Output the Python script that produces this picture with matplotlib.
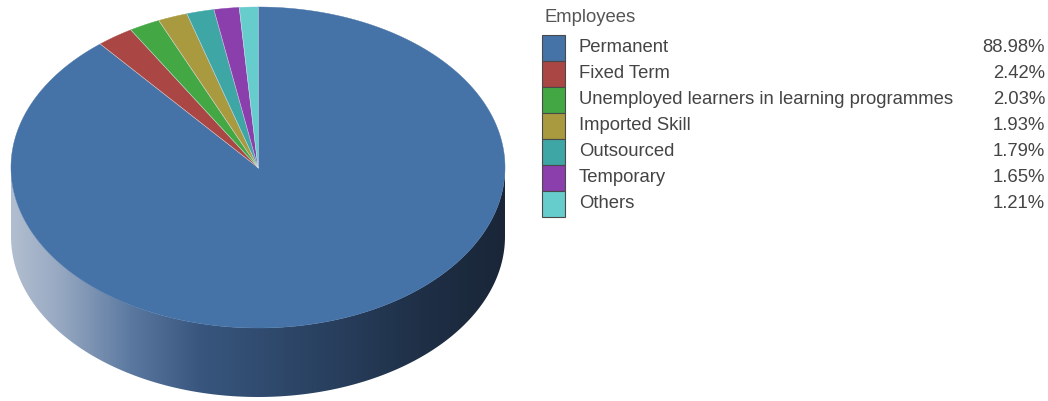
import numpy as np
import matplotlib

matplotlib.use("Agg")

import matplotlib.pyplot as plt
from matplotlib.colors import LinearSegmentedColormap
from matplotlib.patches import Polygon, Rectangle

plt.rcParams["font.family"] = ["Liberation Sans", "DejaVu Sans"]

categories = [
    "Permanent",
    "Fixed Term",
    "Unemployed learners in learning programmes",
    "Imported Skill",
    "Outsourced",
    "Temporary",
    "Others",
]
shares = [88.98, 2.42, 2.03, 1.93, 1.79, 1.65, 1.21]
colors = ["#4572a7", "#aa4643", "#43a843", "#a99a3f", "#3fa6a6", "#8a3fad", "#66cccc"]
legend_title = "Employees"

# pie geometry in pixel-like units (y grows downward)
CX, CY = 258.0, 167.5
RX, RY = 247.0, 160.5
DEPTH = 69.0
FS = 13.3


def ellipse_pts(a0, a1, dy=0.0, n=200):
    t = np.radians(np.linspace(a0, a1, n))
    return np.column_stack([CX + RX * np.cos(t), CY + dy - RY * np.sin(t)])


fig = plt.figure(figsize=(10.48, 4.01), dpi=100)
ax = fig.add_axes([0, 0, 1, 1])
ax.set_xlim(0, 1048)
ax.set_ylim(401, 0)
ax.axis("off")

# front wall of the cylinder with a left-to-right shading
front = np.vstack([ellipse_pts(180, 360), ellipse_pts(360, 180, dy=DEPTH)])
wall = Polygon(front, closed=True, facecolor="none", edgecolor="none")
ax.add_patch(wall)
side_cmap = LinearSegmentedColormap.from_list(
    "side",
    [
        (0.00, (178 / 255, 190 / 255, 208 / 255)),
        (0.10, (150 / 255, 168 / 255, 193 / 255)),
        (0.25, (88 / 255, 118 / 255, 158 / 255)),
        (0.38, (56 / 255, 86 / 255, 126 / 255)),
        (0.62, (42 / 255, 66 / 255, 98 / 255)),
        (0.85, (30 / 255, 46 / 255, 68 / 255)),
        (1.00, (26 / 255, 38 / 255, 56 / 255)),
    ],
)
grad = np.linspace(0, 1, 512).reshape(1, -1)
img = ax.imshow(
    grad,
    cmap=side_cmap,
    extent=[CX - RX, CX + RX, CY + RY + DEPTH, CY],
    aspect="auto",
    interpolation="bilinear",
    zorder=1,
)
img.set_clip_path(wall)

# top face: slices go clockwise from twelve o'clock
total = sum(shares)
start = 90.0
for share, color in zip(shares, colors):
    sweep = share / total * 360.0
    arc = ellipse_pts(start, start - sweep, n=max(8, int(sweep * 2)))
    pts = np.vstack([[CX, CY], arc])
    ax.add_patch(
        Polygon(pts, closed=True, facecolor=color, edgecolor=color,
                linewidth=0.3, zorder=2)
    )
    start -= sweep

# thin light seams between the slices
start = 90.0
for share in shares:
    sweep = share / total * 360.0
    t = np.radians(start)
    ax.plot([CX, CX + RX * np.cos(t)], [CY, CY - RY * np.sin(t)],
            color="#d8e0ea", linewidth=0.4, zorder=2.5)
    start -= sweep

# legend
ax.text(545, 18, legend_title, fontsize=FS, color="#555555", va="center", ha="left")
row_h = 26.0
top = 35.0
for i, (name, share, color) in enumerate(zip(categories, shares, colors)):
    y0 = top + i * row_h
    ax.add_patch(
        Rectangle((542, y0), 23, row_h, facecolor=color, edgecolor="#4a4a4a",
                  linewidth=0.8, zorder=3)
    )
    yc = y0 + row_h / 2
    ax.text(579, yc, name, fontsize=FS, color="#444444", va="center", ha="left")
    ax.text(1045, yc, f"{share:.2f}%", fontsize=FS, color="#444444",
            va="center", ha="right")

fig.savefig("out.png", dpi=100)
